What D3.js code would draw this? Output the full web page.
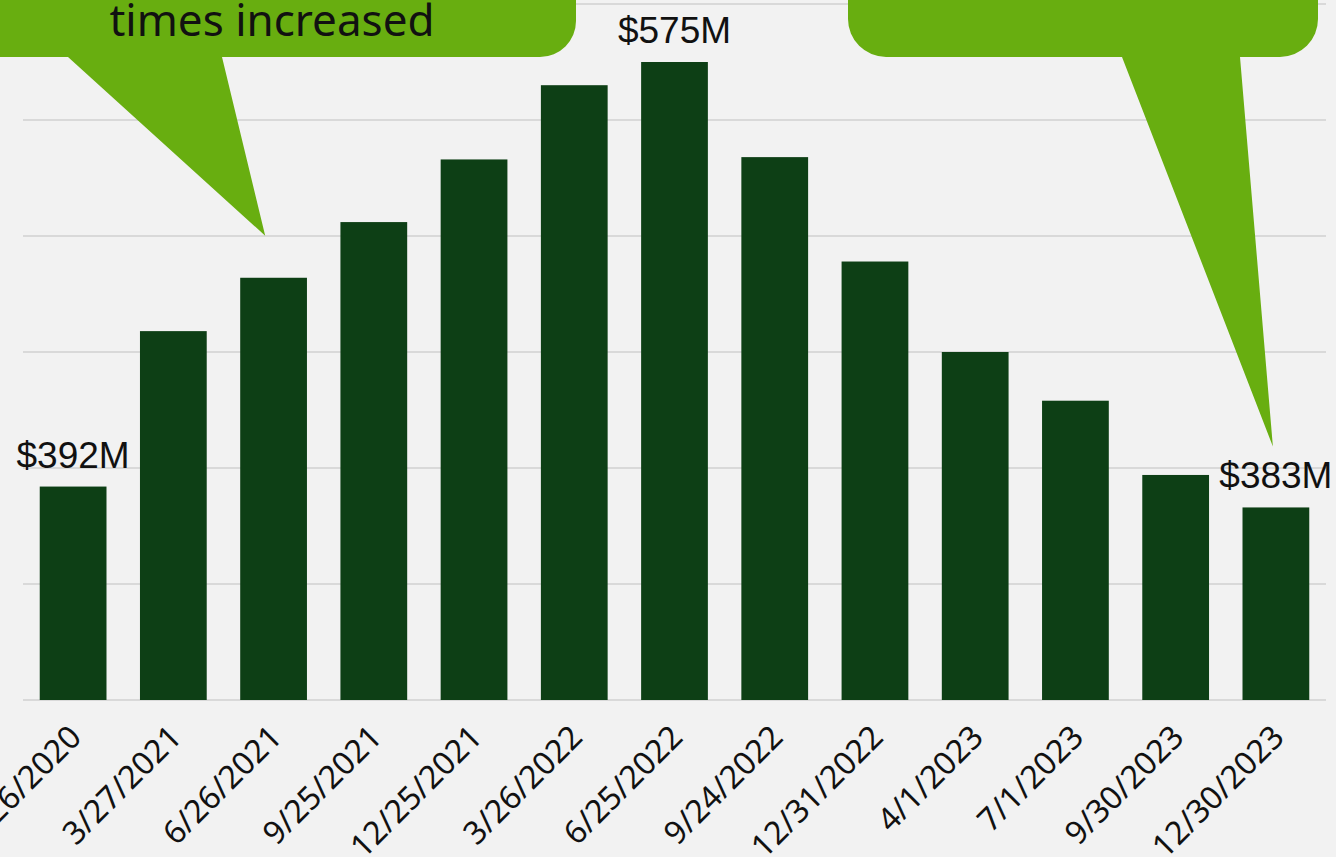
<!DOCTYPE html>
<html>
<head>
<meta charset="utf-8">
<script src="https://cdn.jsdelivr.net/npm/d3@7"></script>
<style>
  html, body { margin: 0; padding: 0; background: #f2f2f2; overflow: hidden; }
  svg { display: block; }
</style>
</head>
<body>
<svg id="chart" width="1336" height="857"></svg>
<script>
// Quarter end dates and revenue ($M)
const quarters = [
  "12/26/2020", "3/27/2021", "6/26/2021", "9/25/2021", "12/25/2021",
  "3/26/2022", "6/25/2022", "9/24/2022", "12/31/2022", "4/1/2023",
  "7/1/2023", "9/30/2023", "12/30/2023"
];
const revenue = [392, 459, 482, 506, 533, 565, 575, 534, 489, 450, 429, 397, 383];
const labelled = [0, 6, 12];
const yTicks = [300, 350, 400, 450, 500, 550, 600];

const svg = d3.select("#chart");

const x = d3.scaleBand()
  .domain(quarters)
  .range([23, 1326])
  .paddingInner(0.334)
  .paddingOuter(0.167);

const y = d3.scaleLinear()
  .domain([300, 600])
  .range([700, 4]);

// Gridlines
svg.append("g")
  .selectAll("line")
  .data(yTicks)
  .join("line")
  .attr("x1", 23)
  .attr("x2", 1326)
  .attr("y1", (d) => y(d))
  .attr("y2", (d) => y(d))
  .attr("stroke", "#d9d9d9")
  .attr("stroke-width", 2);

// Bars
svg.append("g")
  .selectAll("rect")
  .data(revenue)
  .join("rect")
  .attr("x", (d, i) => x(quarters[i]))
  .attr("y", (d) => y(d))
  .attr("width", x.bandwidth())
  .attr("height", (d) => y(300) - y(d))
  .attr("fill", "#0d3f15");

// Value labels
svg.append("g")
  .selectAll("text")
  .data(labelled)
  .join("text")
  .attr("x", (i) => x(quarters[i]) + x.bandwidth() / 2)
  .attr("y", (i) => y(revenue[i]) - 19)
  .attr("text-anchor", "middle")
  .attr("font-family", "'Liberation Sans', Arial, sans-serif")
  .attr("font-size", 37)
  .attr("fill", "#111")
  .text((i) => `$${revenue[i]}M`);

// X axis labels, rotated
svg.append("g")
  .selectAll("text")
  .data(quarters)
  .join("text")
  .attr("transform", (d) => `translate(${x(d) + x.bandwidth() / 2 + 10},739) rotate(-45)`)
  .attr("text-anchor", "end")
  .attr("font-family", "'Noto Sans', sans-serif")
  .attr("font-size", 32)
  .attr("fill", "#111")
  .text((d) => d);

// Callouts (speech bubbles) cut off at top of frame
const green = "#68ae10";

function bubble(left, right, bottom, r, tailL, tailR, tip) {
  const top = -100;
  return [
    `M${left},${top}`,
    `L${right},${top}`,
    `L${right},${bottom - r}`,
    `A${r},${r} 0 0 1 ${right - r},${bottom}`,
    `L${tailR},${bottom}`,
    `L${tip[0]},${tip[1]}`,
    `L${tailL},${bottom}`,
    `L${left + r},${bottom}`,
    `A${r},${r} 0 0 1 ${left},${bottom - r}`,
    "Z"
  ].join(" ");
}

// left bubble points toward the 6/26/2021 bar
const tip1 = [x(quarters[2]) + 25, y(revenue[2]) - 42];
svg.append("path")
  .attr("d", bubble(-80, 576, 57, 36, 68, 222, tip1))
  .attr("fill", green);

svg.append("text")
  .attr("x", 272)
  .attr("y", 36)
  .attr("text-anchor", "middle")
  .attr("font-family", "'Noto Sans', sans-serif")
  .attr("font-size", 44)
  .attr("fill", "#111")
  .text("times increased");

// right bubble points toward the last bar label
const tip2 = [x(quarters[12]) + x.bandwidth() / 2 - 3, y(revenue[12]) - 61];
svg.append("path")
  .attr("d", bubble(848, 1318, 57, 38, 1122, 1240, tip2))
  .attr("fill", green);
</script>
</body>
</html>
